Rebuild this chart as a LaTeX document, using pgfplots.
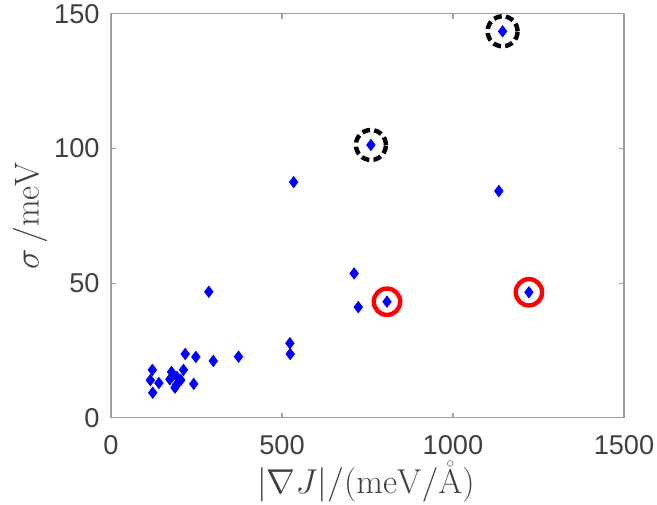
\documentclass[border=0pt]{standalone}
\usepackage[no-math]{fontspec}
\setmainfont{Liberation Sans}
\usepackage{pgfplots}
\pgfplotsset{compat=1.18}
\usetikzlibrary{calc}
\definecolor{tickgray}{rgb}{0.25,0.25,0.25}
\definecolor{axgray}{rgb}{0.62,0.62,0.62}

\begin{document}
\begin{tikzpicture}
\begin{axis}[
    name=ax,
    scale only axis,
    width=256.5pt,
    height=202pt,
    xmin=0, xmax=1500,
    ymin=0, ymax=150,
    xtick={0,500,1000,1500},
    ytick={0,50,100,150},
    tick align=inside,
    major tick length=2.5pt,
    axis line style={axgray, line width=0.6pt},
    tick style={axgray, line width=0.6pt},
    /pgf/number format/assume math mode=true,
    /pgf/number format/1000 sep={},
    xticklabel style={font=\fontsize{13.6}{16}\selectfont, text=tickgray, anchor=base, inner sep=0pt, yshift=-18.5pt},
    yticklabel style={font=\fontsize{13.6}{16}\selectfont, text=tickgray, anchor=east, inner sep=0pt, xshift=-5.5pt},
    xlabel={$|\nabla J|/(\mathrm{meV}/\mathrm{\mathring{A}})$},
    ylabel={$\sigma\,/\mathrm{meV}$},
    xlabel style={font=\fontsize{16.3}{19}\selectfont, text=tickgray, at={(axis description cs:0.497,-0.188)}, anchor=base, inner sep=0pt},
    ylabel style={font=\fontsize{16.3}{19}\selectfont, text=tickgray, at={(axis description cs:-0.158,0.5)}, anchor=center, inner sep=0pt},
]
% highlighted points: dashed black and solid red rings
\addplot[only marks, mark=o, mark size=7.5pt,
    mark options={line width=2.2pt, black, dash pattern=on 4pt off 2.1pt}]
    coordinates {(760,101.3) (1145,143.5)};
\addplot[only marks, mark=o, mark size=6.6pt,
    mark options={line width=2.2pt, red}]
    coordinates {(807,43.1) (1222,46.6)};
% all data
\addplot[only marks, mark=diamond*, mark size=2.8pt, blue, mark options={fill=blue}]
    coordinates {
    (115,14.0) (121,17.8) (122,9.3) (140,12.9) (177,17.0) (172,14.3)
    (193,15.2) (187,11.2) (192,12.4) (204,14.0) (212,17.8) (217,23.7)
    (248,22.6) (242,12.6) (299,21.1) (373,22.7) (523,27.7) (524,23.7)
    (286,46.8) (534,87.5) (711,53.6) (723,41.1) (807,43.1) (760,101.3)
    (1134,84.2) (1222,46.6) (1145,143.5)
    };
\end{axis}
\pgfresetboundingbox
\path ($(ax.south west)+(-55.5pt,-43.15pt)$) rectangle ($(ax.north east)+(16.5pt,6.9pt)$);
\end{tikzpicture}
\end{document}
